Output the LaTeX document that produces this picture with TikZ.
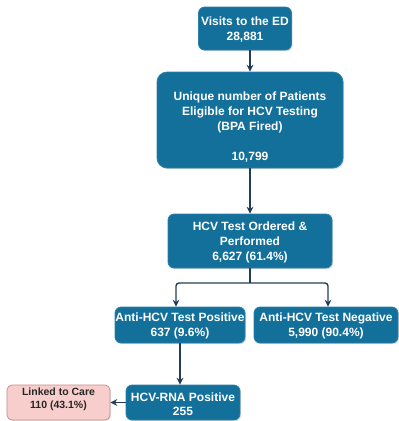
\documentclass[tikz,border=0pt]{standalone}
\usepackage{fontspec}
\setmainfont{Liberation Sans}
\usetikzlibrary{arrows.meta,shadows}
\definecolor{boxblue}{HTML}{13709A}
\definecolor{boxborder}{HTML}{2E80A8}
\definecolor{pinkfill}{HTML}{F8CECC}
\definecolor{pinkdraw}{HTML}{C98885}
\definecolor{arrowcol}{HTML}{233D58}
\begin{document}
\begin{tikzpicture}[x=1pt,y=-1pt,
  bluebox/.style={draw=boxborder, line width=0.7pt, fill=boxblue, rounded corners=6pt,
    inner sep=0pt, drop shadow={opacity=0.25, shadow xshift=1.2pt, shadow yshift=-1.2pt}},
  btext/.style={text=white, font=\fontsize{12}{15}\selectfont\bfseries, align=center, inner sep=0pt},
  pinkbox/.style={draw=pinkdraw, line width=0.7pt, fill=pinkfill, rounded corners=5pt,
    inner sep=0pt, drop shadow={opacity=0.2, shadow xshift=1.2pt, shadow yshift=-1.2pt}},
  ptext/.style={text=black!85, font=\fontsize{10.5}{12.5}\selectfont\bfseries, align=center, inner sep=0pt},
  conn/.style={draw=arrowcol, line width=1.4pt, -{Stealth[length=7pt,width=7pt]}},
  connplain/.style={draw=arrowcol, line width=1.4pt, rounded corners=3pt}
]
\useasboundingbox (0,0) rectangle (399,421);

% boxes
\node[bluebox, minimum width=93pt, minimum height=43pt] (b1) at (245,28.5) {};
\node[btext] (b1t) at (245,30) {Visits to the ED\\28,881};

\node[bluebox, rounded corners=10pt, minimum width=186pt, minimum height=96pt] (b2) at (250,120) {};
\node[btext] (b2t) at (250,127) {Unique number of Patients\\Eligible for HCV Testing\\(BPA Fired)\\[15pt]10,799};

\node[bluebox, minimum width=164pt, minimum height=54pt] (b3) at (250,241) {};
\node[btext] (b3t) at (250,242) {HCV Test Ordered \&\\Performed\\6,627 (61.4\%)};

\node[bluebox, minimum width=130pt, minimum height=36pt] (b4) at (180,325) {};
\node[btext] (b4t) at (180,326) {Anti-HCV Test Positive\\637 (9.6\%)};

\node[bluebox, minimum width=144pt, minimum height=36pt] (b5) at (326,325) {};
\node[btext] (b5t) at (326,326) {Anti-HCV Test Negative\\5,990 (90.4\%)};

\node[bluebox, minimum width=114pt, minimum height=35pt] (b6) at (183,402.5) {};
\node[btext, font=\fontsize{12}{14}\selectfont\bfseries] (b6t) at (183,404) {HCV-RNA Positive\\255};

\node[pinkbox, minimum width=103pt, minimum height=35pt] (b7) at (58.5,402.5) {};
\node[ptext] (b7t) at (58.5,399.5) {Linked to Care\\110 (43.1\%)};

% connectors
\draw[conn] (b2.north |- b1.south) -- (b2.north);
\coordinate (j) at (250,283);
\draw[conn] (b2.south) -- (b3.north);
\draw[connplain] (b3.south) -- (j);
\draw[conn, rounded corners=3pt] (j) -| ([xshift=-4pt]b4.north);
\draw[conn, rounded corners=3pt] (j) -| ([xshift=2pt]b5.north);
\draw[conn] (b4.south) -- (b4.south |- b6.north);
\draw[conn] (b6.west) -- (b7.east);
\end{tikzpicture}
\end{document}
